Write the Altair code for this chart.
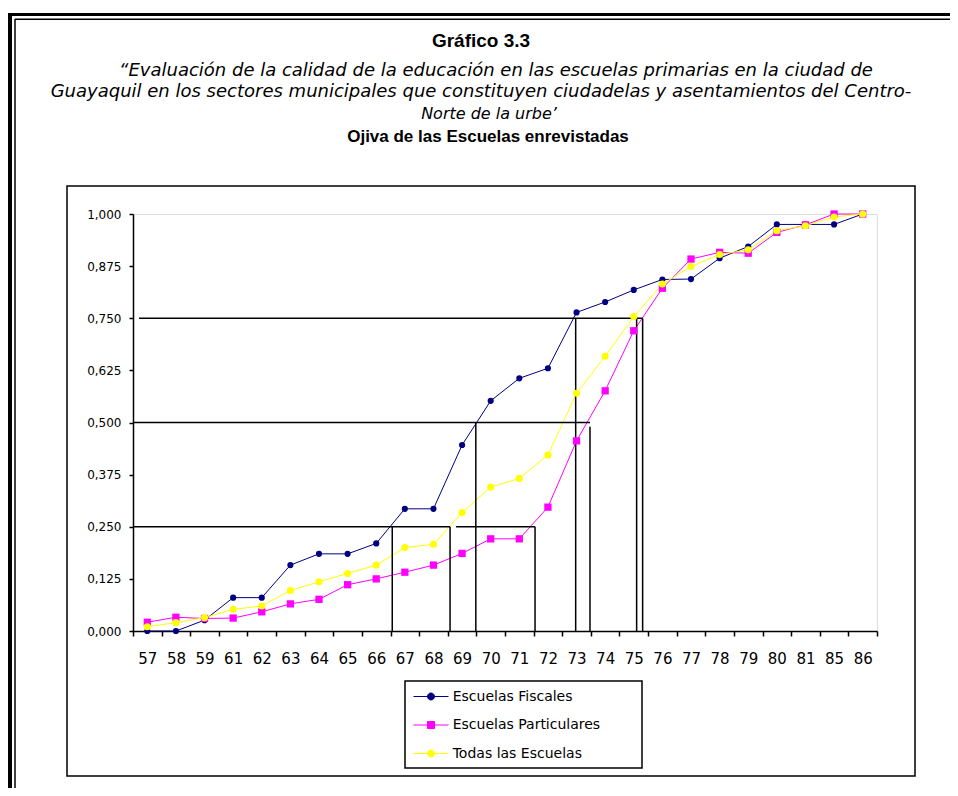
import json
import altair as alt
import pandas as pd

# ---------------- data ----------------
categories = ["57", "58", "59", "61", "62", "63", "64", "65", "66", "67", "68", "69", "70",
              "71", "72", "73", "74", "75", "76", "77", "78", "79", "80", "81", "85", "86"]
fiscales = [0.000, 0.000, 0.026, 0.080, 0.080, 0.158, 0.185, 0.185, 0.210, 0.293, 0.293, 0.446, 0.552,
            0.606, 0.630, 0.764, 0.789, 0.818, 0.843, 0.844, 0.894, 0.922, 0.975, 0.975, 0.975, 1.000]
particulares = [0.021, 0.033, 0.030, 0.031, 0.046, 0.065, 0.076, 0.111, 0.125, 0.141, 0.158, 0.186, 0.221,
                0.221, 0.297, 0.456, 0.576, 0.720, 0.822, 0.892, 0.908, 0.906, 0.956, 0.974, 1.000, 1.000]
todas = [0.010, 0.020, 0.032, 0.052, 0.060, 0.097, 0.118, 0.138, 0.158, 0.200, 0.208, 0.284, 0.345,
         0.366, 0.422, 0.570, 0.659, 0.754, 0.832, 0.874, 0.903, 0.914, 0.960, 0.972, 0.993, 1.000]
series_names = ["Escuelas Fiscales", "Escuelas Particulares", "Todas las Escuelas"]
series_colors = ["#000080", "#FF00FF", "#FFFF00"]
y_ticks = [0.0, 0.125, 0.25, 0.375, 0.5, 0.625, 0.75, 0.875, 1.0]

# hand-drawn quartile guide lines (category-position units / cumulative share)
hline_y = [0.75, 0.50, 0.25, 0.25]
hline_x1 = [0.21, 0.00, 0.00, 11.29]
hline_x2 = [17.81, 15.97, 11.08, 14.05]
vline_x = [9.06, 11.08, 11.98, 14.05, 15.47, 15.97, 17.60, 17.81]
vline_top = [0.25, 0.25, 0.50, 0.25, 0.75, 0.49, 0.75, 0.75]

title_main = "Gráfico 3.3"
subtitle_lines = [
    "“Evaluación de la calidad de la educación en las escuelas primarias en la ciudad de",
    "Guayaquil en los sectores municipales que constituyen ciudadelas y asentamientos del Centro-",
    "Norte de la urbe’",
]
chart_heading = "Ojiva de las Escuelas enrevistadas"

# ---------------- tables ----------------
rows = []
for name, vals in zip(series_names, [fiscales, particulares, todas]):
    for i, (c, v) in enumerate(zip(categories, vals)):
        rows.append({"series": name, "pos": i + 0.5, "cat": c, "value": v})
df = pd.DataFrame(rows)

href = pd.DataFrame({"pos": hline_x1, "pos_end": hline_x2, "value": hline_y})
vref = pd.DataFrame({"pos": vline_x, "value": vline_top, "base": [0.0] * len(vline_x)})

# ---------------- layout ----------------
W, H = 744, 417
PAD = {"left": 125, "top": 206, "right": 73, "bottom": 157}

n = len(categories)
x_scale = alt.Scale(domain=[0, n], nice=False, zero=False)
y_scale = alt.Scale(domain=[0, 1], nice=False, zero=False)

cat_js = json.dumps(categories)
x_axis = alt.Axis(
    values=[k * 0.5 for k in range(2 * n + 1)],
    labelExpr=f"datum.value % 1 === 0 ? '' : {cat_js}[floor(datum.value)]",
    tickOpacity={"condition": {"test": "datum.value % 1 === 0", "value": 1}, "value": 0},
    title=None, grid=False, tickSize=5, tickColor="black", tickWidth=1.5,
    domainColor="black", domainWidth=1.5,
    labelFont="DejaVu Sans", labelFontSize=15, labelColor="black", labelPadding=15,
    labelFlush=False, labelOverlap=False,
)
y_axis = alt.Axis(
    values=y_ticks,
    labelExpr="replace(format(datum.value, '.3f'), '.', ',')",
    title=None, grid=False, tickSize=4, tickColor="black", tickWidth=1.5,
    domainColor="black", domainWidth=1.5,
    labelFont="DejaVu Sans", labelFontSize=12, labelColor="black", labelPadding=8,
    labelFlush=False, labelOverlap=False,
)

X = alt.X("pos:Q", scale=x_scale, axis=x_axis)
Y = alt.Y("value:Q", scale=y_scale, axis=y_axis)
color_scale = alt.Scale(domain=series_names, range=series_colors)

one = pd.DataFrame({"k": [0]})


def vrule(x, y1, y2, w):
    return alt.Chart(one).mark_rule(color="black", strokeWidth=w).encode(
        x=alt.value(x), y=alt.value(y1), y2=alt.value(y2))


def hrule(y, x1, x2, w):
    return alt.Chart(one).mark_rule(color="black", strokeWidth=w).encode(
        y=alt.value(y), x=alt.value(x1), x2=alt.value(x2))


def box(x1, y1, x2, y2, w):
    return alt.Chart(one).mark_rect(fillOpacity=0, stroke="black", strokeWidth=w).encode(
        x=alt.value(x1), x2=alt.value(x2), y=alt.value(y1), y2=alt.value(y2))


def text_layer(txt, x, y, size, weight="normal", style="normal", font="Liberation Sans"):
    return alt.Chart(pd.DataFrame({"t": [txt]})).mark_text(
        font=font, fontSize=size, fontWeight=weight, fontStyle=style,
        align="center", baseline="middle", color="black",
    ).encode(text="t:N", x=alt.value(x), y=alt.value(y))


# page frame (double line), inner chart box and legend box
frame = [
    vrule(-123, -201, 580, 4),
    hrule(-199.5, -125, 830, 3),
    vrule(-118, -195, 580, 1.5),
    hrule(-194.7, -118, 830, 1.5),
    box(-66, -28, 782, 562, 1.5),
    box(272, 467, 509, 554, 1.5),
]

# legend: symbol = line with marker
circ_path = "M-0.7,0H2.8M0.7,0A0.35,0.35 0 1,0 1.4,0A0.35,0.35 0 1,0 0.7,0Z"
sq_path = "M-0.7,0H2.8M0.7,-0.35H1.4V0.35H0.7Z"
legend = alt.Legend(
    title=None, orient="none", legendX=277, legendY=472, padding=0,
    symbolSize=400, rowPadding=10.5, labelOffset=21.7,
    labelFont="DejaVu Sans", labelFontSize=14, labelColor="black",
    symbolStrokeWidth=1, symbolOpacity=1,
)

# guide lines
h_guides = alt.Chart(href).mark_rule(color="black", strokeWidth=1.5).encode(
    x=X, x2="pos_end:Q", y=Y)
v_guides = alt.Chart(vref).mark_rule(color="black", strokeWidth=1.5).encode(
    x=X, y=Y, y2="base:Q")

lines = alt.Chart(df).mark_line(strokeWidth=1).encode(
    x=X, y=Y, color=alt.Color("series:N", scale=color_scale, legend=legend))


def pts(idx, shape, size):
    return alt.Chart(df).transform_filter(
        alt.datum.series == series_names[idx]
    ).mark_point(filled=True, shape=shape, size=size, opacity=1,
                 color=series_colors[idx]).encode(x=X, y=Y)


points = [pts(0, "circle", 38), pts(1, "square", 53), pts(2, "circle", 50)]

legend_layer = alt.Chart(df).mark_point(
    filled=True, opacity=0, strokeWidth=1
).encode(
    x=X, y=Y,
    fill=alt.Fill("series:N", scale=alt.Scale(domain=series_names, range=series_colors), legend=legend),
    stroke=alt.Stroke("series:N", scale=alt.Scale(domain=series_names, range=series_colors), legend=legend),
    shape=alt.Shape("series:N", scale=alt.Scale(domain=series_names, range=[circ_path, sq_path, circ_path]),
                    legend=legend),
)

texts = [
    text_layer(title_main, 348, -173, 19, weight="bold"),
    text_layer(subtitle_lines[0], 363, -143, 18, style="italic", font="DejaVu Sans"),
    text_layer(subtitle_lines[1], 348, -122, 18, style="italic", font="DejaVu Sans"),
    text_layer(subtitle_lines[2], 356, -100, 16, style="italic", font="DejaVu Sans"),
    text_layer(chart_heading, 355, -77, 17, weight="bold"),
]

chart = alt.layer(
    *frame, lines, h_guides, v_guides, *points, legend_layer, *texts
).properties(
    width=W, height=H, padding=PAD,
    autosize=alt.AutoSizeParams(type="none"),
).configure_view(stroke=None).configure(background="white")

chart.save("out.html", embed_options={"renderer": "svg", "actions": False})
